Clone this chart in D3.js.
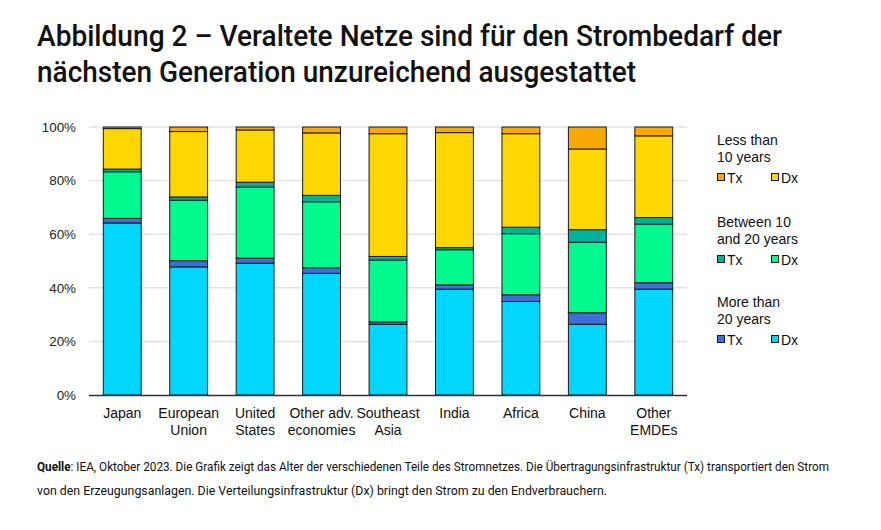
<!DOCTYPE html>
<html>
<head>
<meta charset="utf-8">
<script src="https://cdn.jsdelivr.net/npm/d3@7"></script>
<style>
  body { margin: 0; background: #fff; }
  svg { display: block; }
</style>
</head>
<body>
<div class="chart"></div>
<script>
var svgWidth = 881;
var svgHeight = 530;

// categories (two-line labels)
var categories = ["Japan", "European Union", "United States", "Other adv. economies",
  "Southeast Asia", "India", "Africa", "China", "Other EMDEs"];
var catLines = [["Japan"], ["European", "Union"], ["United", "States"], ["Other adv.", "economies"],
  ["Southeast", "Asia"], ["India"], ["Africa"], ["China"], ["Other", "EMDEs"]];

// shares in % (bottom to top)
var dxOver20 = [64.2, 47.8, 49.2, 45.4, 26.4, 39.5, 34.9, 26.4, 39.5];
var txOver20 = [1.7, 2.3, 1.9, 2.1, 0.9, 1.6, 2.5, 4.3, 2.4];
var dx10to20 = [17.4, 22.6, 26.5, 24.6, 23.1, 13.1, 22.8, 26.3, 21.9];
var tx10to20 = [1.0, 1.2, 1.8, 2.4, 1.3, 0.8, 2.4, 4.7, 2.4];
var dxUnder10 = [15.1, 24.4, 19.5, 23.3, 45.8, 42.9, 34.9, 30.1, 30.5];
var txUnder10 = [0.6, 1.7, 1.1, 2.2, 2.5, 2.1, 2.5, 8.2, 3.3];

var yTicks = [0, 20, 40, 60, 80, 100];

var seriesKeys = ["dxOver20", "txOver20", "dx10to20", "tx10to20", "dxUnder10", "txUnder10"];
var seriesColors = {
  dxOver20: "#00d7fe",
  txOver20: "#3e6fd6",
  dx10to20: "#00fa8e",
  tx10to20: "#00b29c",
  dxUnder10: "#ffd700",
  txUnder10: "#f6a900"
};

// build a table for d3.stack
var table = categories.map(function(c, i) {
  return {
    cat: c,
    dxOver20: dxOver20[i],
    txOver20: txOver20[i],
    dx10to20: dx10to20[i],
    tx10to20: tx10to20[i],
    dxUnder10: dxUnder10[i],
    txUnder10: txUnder10[i]
  };
});

var svg = d3.select(".chart")
  .append("svg")
  .attr("width", svgWidth)
  .attr("height", svgHeight);

// title
var titleFont = "Roboto, 'DejaVu Sans Condensed', sans-serif";
svg.append("text")
  .attr("x", 37).attr("y", 46)
  .attr("font-family", titleFont)
  .attr("font-size", 30)
  .attr("font-weight", 500)
  .attr("fill", "#111")
  .attr("textLength", 745)
  .attr("lengthAdjust", "spacingAndGlyphs")
  .text("Abbildung 2 \u2013 Veraltete Netze sind für den Strombedarf der");
svg.append("text")
  .attr("x", 37).attr("y", 82)
  .attr("font-family", titleFont)
  .attr("font-size", 30)
  .attr("font-weight", 500)
  .attr("fill", "#111")
  .attr("textLength", 599)
  .attr("lengthAdjust", "spacingAndGlyphs")
  .text("nächsten Generation unzureichend ausgestattet");

// scales
var x = d3.scaleBand()
  .domain(categories)
  .range([89, 687])
  .paddingInner(0.43)
  .paddingOuter(0.215);

var y = d3.scaleLinear()
  .domain([0, 100])
  .range([395, 127]);

var chartFont = "'Liberation Sans', Arial, sans-serif";

// gridlines
svg.append("g")
  .selectAll("line")
  .data(yTicks.filter(function(d) { return d > 0; }))
  .enter()
  .append("line")
  .attr("x1", 89).attr("x2", 687)
  .attr("y1", function(d) { return y(d); })
  .attr("y2", function(d) { return y(d); })
  .attr("stroke", "#e3e3e3")
  .attr("stroke-width", 1.5);

// y axis labels
var leftAxis = d3.axisLeft(y)
  .tickValues(yTicks)
  .tickSize(0)
  .tickPadding(0)
  .tickFormat(function(d) { return d + "%"; });

var yAxis = svg.append("g")
  .attr("transform", "translate(76,0)")
  .call(leftAxis);
yAxis.select(".domain").remove();
yAxis.selectAll("text")
  .attr("font-family", chartFont)
  .attr("font-size", 13.4)
  .attr("fill", "#222");

// stacked bars
var stack = d3.stack().keys(seriesKeys);
var layers = stack(table);

svg.append("g")
  .selectAll("g")
  .data(layers)
  .enter()
  .append("g")
  .attr("fill", function(d) { return seriesColors[d.key]; })
  .selectAll("rect")
  .data(function(d) { return d; })
  .enter()
  .append("rect")
  .attr("x", function(d) { return x(d.data.cat); })
  .attr("width", x.bandwidth())
  .attr("y", function(d) { return y(d[1]); })
  .attr("height", function(d) { return y(d[0]) - y(d[1]); })
  .attr("stroke", "#1a1a1a")
  .attr("stroke-width", 1);

// x axis line
svg.append("line")
  .attr("x1", 89).attr("x2", 687)
  .attr("y1", 395.5).attr("y2", 395.5)
  .attr("stroke", "#333")
  .attr("stroke-width", 1.5);

// x labels
var xlabels = svg.append("g")
  .selectAll("text")
  .data(categories)
  .enter()
  .append("text")
  .attr("x", function(d) { return x(d) + x.bandwidth() / 2; })
  .attr("y", 418)
  .attr("text-anchor", "middle")
  .attr("font-family", chartFont)
  .attr("font-size", 14)
  .attr("fill", "#111");

xlabels.selectAll("tspan")
  .data(function(d, i) { return catLines[i]; })
  .enter()
  .append("tspan")
  .attr("x", function() { var p = this.parentNode; return d3.select(p).attr("x"); })
  .attr("dy", function(d, i) { return i === 0 ? 0 : 16.5; })
  .text(function(d) { return d; });

// legend
var legendGroups = [
  { title: ["Less than", "10 years"], y: 145, tx: "txUnder10", dx: "dxUnder10" },
  { title: ["Between 10", "and 20 years"], y: 227, tx: "tx10to20", dx: "dx10to20" },
  { title: ["More than", "20 years"], y: 307, tx: "txOver20", dx: "dxOver20" }
];

var legend = svg.append("g");
legendGroups.forEach(function(g) {
  g.title.forEach(function(t, i) {
    legend.append("text")
      .attr("x", 717)
      .attr("y", g.y + i * 16.5)
      .attr("font-family", chartFont)
      .attr("font-size", 14)
      .attr("fill", "#111")
      .text(t);
  });
  var rowY = g.y + 38;
  [[g.tx, "Tx", 717], [g.dx, "Dx", 771]].forEach(function(item) {
    legend.append("rect")
      .attr("x", item[2] + 0.5)
      .attr("y", rowY - 9.5)
      .attr("width", 7)
      .attr("height", 7)
      .attr("fill", seriesColors[item[0]])
      .attr("stroke", "#1a1a1a")
      .attr("stroke-width", 1);
    legend.append("text")
      .attr("x", item[2] + 10)
      .attr("y", rowY)
      .attr("font-family", chartFont)
      .attr("font-size", 14)
      .attr("fill", "#111")
      .text(item[1]);
  });
});

// source note
var noteFont = "Roboto, sans-serif";
var note1 = svg.append("text")
  .attr("x", 37).attr("y", 471)
  .attr("font-family", noteFont)
  .attr("font-size", 12)
  .attr("fill", "#111")
  .attr("textLength", 792)
  .attr("lengthAdjust", "spacingAndGlyphs");
note1.append("tspan").attr("font-weight", "bold").text("Quelle");
note1.append("tspan").text(": IEA, Oktober 2023. Die Grafik zeigt das Alter der verschiedenen Teile des Stromnetzes. Die Übertragungsinfrastruktur (Tx) transportiert den Strom");

svg.append("text")
  .attr("x", 37).attr("y", 495)
  .attr("font-family", noteFont)
  .attr("font-size", 12)
  .attr("fill", "#111")
  .attr("textLength", 570)
  .attr("lengthAdjust", "spacingAndGlyphs")
  .text("von den Erzeugungsanlagen. Die Verteilungsinfrastruktur (Dx) bringt den Strom zu den Endverbrauchern.");
</script>
</body>
</html>
